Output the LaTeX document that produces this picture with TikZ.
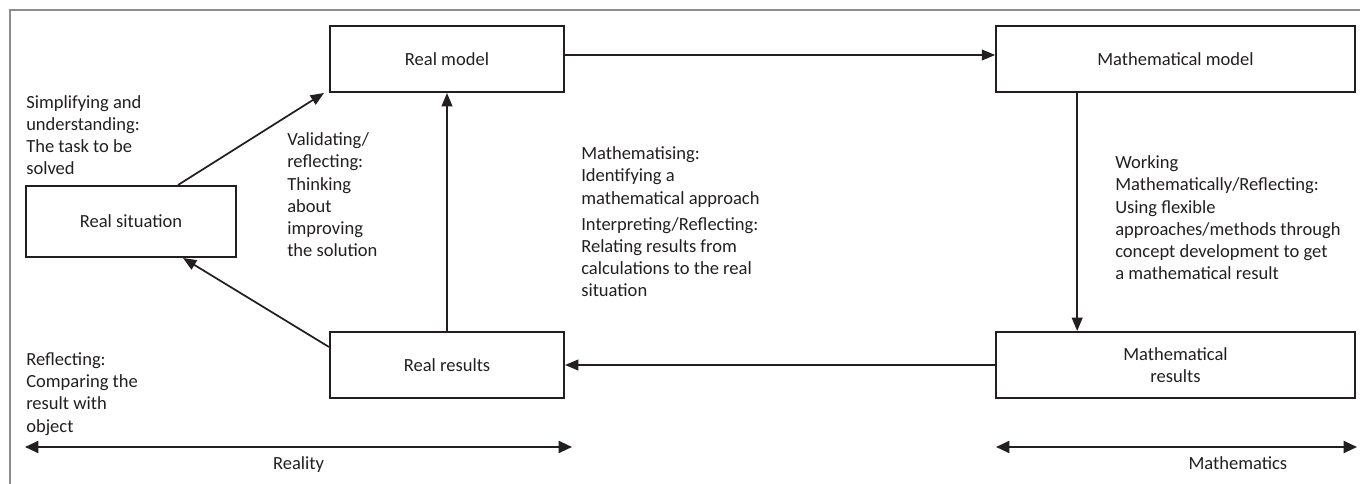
\documentclass[tikz,border=0pt]{standalone}
\usepackage{fontspec}
\setmainfont{Carlito}
\usetikzlibrary{arrows.meta}
\usetikzlibrary{positioning}
\usetikzlibrary{calc}
\usepackage{xcolor}
\definecolor{inkgrey}{HTML}{231F20}
\definecolor{framegrey}{HTML}{8C8C8C}

\begin{document}
\begin{tikzpicture}[
        x=0.75pt, y=-0.75pt,
        font=\fontsize{13.9}{16.7}\selectfont, text=inkgrey,
        stage/.style={rectangle, draw=inkgrey, line width=1.5pt,
          minimum width=175.5pt, minimum height=49.5pt, align=center},
        mathstage/.style={stage, minimum width=269pt},
        note/.style={anchor=base west, align=left, inner sep=0pt},
        arrow/.style={-{Triangle[length=10pt, width=8pt]}, line width=1.3pt, draw=inkgrey},
        span/.style={{Triangle[length=10pt, width=9pt]}-{Triangle[length=10pt, width=9pt]},
          line width=1.5pt, draw=inkgrey},
        frame/.style={draw=framegrey, line width=1.2pt},
      ]

      \useasboundingbox (0,0) rectangle (1360,484);

      % Frame (top and left edge only)
      \draw[frame] (10,484) -- (10,10) -- (1360,10);

      % Reality side
      \node[stage, minimum width=157.5pt, minimum height=53.25pt] (realsit) at (131,221.5) {Real situation};
      \node[stage] (realmod) at (447,59) {Real model};
      \node[stage] (realres) at (447,365) {Real results};

      % Mathematics side
      \node[mathstage] (mathmod) at (1175.5,59) {Mathematical model};
      \node[mathstage] (mathres) at (1175.5,365) {Mathematical\\results};

      % Notes (placed at the baseline of their last line)
      \node[note] (simp) at (26,175) {Simplifying and\\understanding:\\The task to be\\solved};
      \node[note] (valid) at (287,257) {Validating/\\reflecting:\\Thinking\\about\\improving\\the solution};
      \node[note] (mathz) at (581,297) {Mathematising:\\Identifying a\\mathematical approach\\[2.8pt]
        Interpreting/Reflecting:\\Relating results from\\calculations to the real\\situation};
      \node[note] (work) at (1115,280) {Working\\Mathematically/Reflecting:\\Using flexible\\
        approaches/methods through\\concept development to get\\a mathematical result};
      \node[note] (refl) at (26,432) {Reflecting:\\Comparing the\\result with\\object};

      % Arrows
      \draw[arrow] ($(realsit.north)+(47,0)$) -- ($(realmod.south west)+(-5,0)$);
      \draw[arrow] ($(realmod.east)+(0,-4)$) -- ($(mathmod.west)+(0,-4)$);
      \draw[arrow] ($(mathmod.south west)+(82,0)$) -- ($(mathres.north west)+(82,0)$);
      \draw[arrow] (mathres) -- (realres);
      \draw[arrow] (realres) -- (realmod);
      \draw[arrow] ($(realres.north west)+(0,16)$) -- ($(realsit.south)+(52,0)$);

      % Scales
      \coordinate (realL) at (25,447);
      \coordinate (realR) at (572,447);
      \coordinate (mathL) at (996,447);
      \coordinate (mathR) at (1357,447);
      \draw[span] (realL) -- node[below=3pt] {Reality} (realR);
      \draw[span] (mathL) -- node[pos=0.67, below=3pt] {Mathematics} (mathR);

      \end{tikzpicture}
\end{document}
